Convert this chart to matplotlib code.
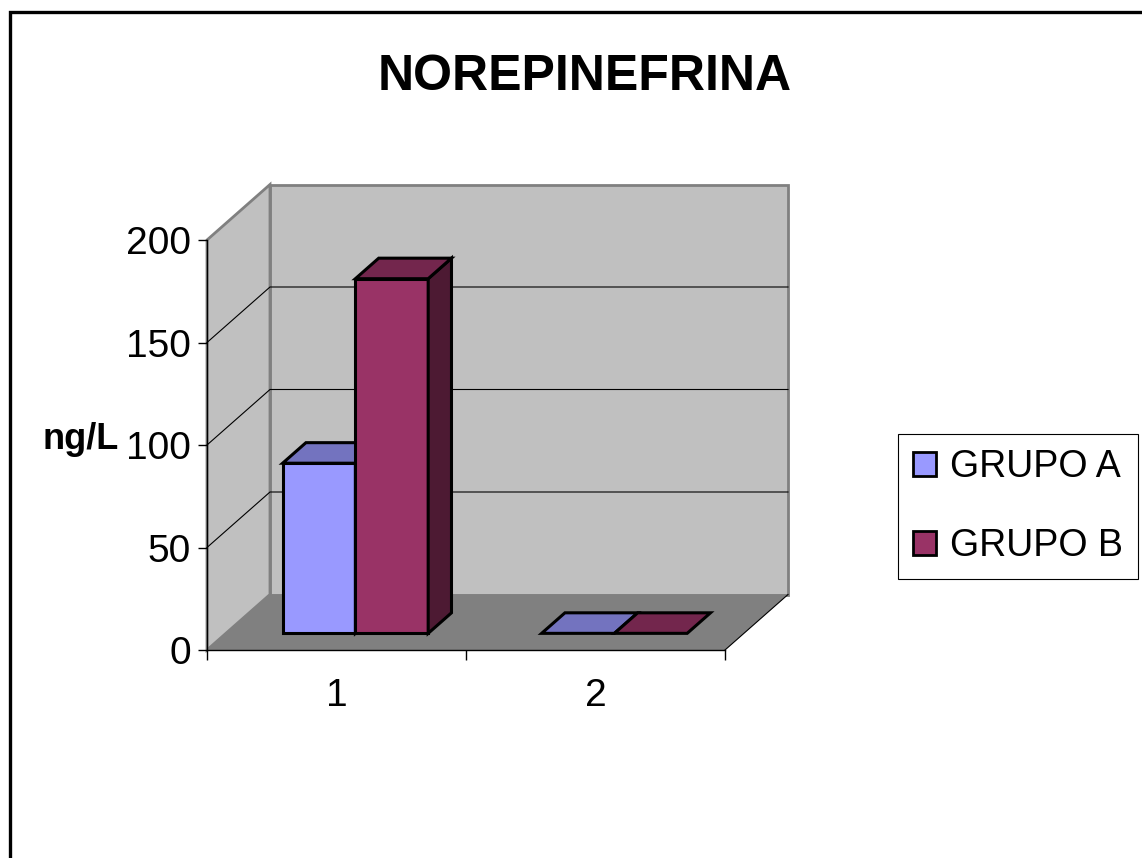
import matplotlib
matplotlib.use("Agg")
import matplotlib.pyplot as plt
from matplotlib.patches import Polygon, Patch
from matplotlib.lines import Line2D

plt.rcParams['font.family'] = ['Liberation Sans', 'DejaVu Sans']

# ---- data ----
categories = ['1', '2']
series_names = ['GRUPO A', 'GRUPO B']
grupo_a = [83, 0]
grupo_b = [173, 0]
yticks = [0, 50, 100, 150, 200]

# ---- styling ----
front_colors = ['#9999FF', '#993366']
top_colors = ['#7373BF', '#73264D']
side_colors = ['#4D4D80', '#4D1A33']
wall_color = '#C0C0C0'
floor_color = '#808080'
wall_edge = '#808080'

W, H = 1142, 858
fig = plt.figure(figsize=(W / 100, H / 100), dpi=100)


def fx(px):
    return px / W


def fy(py):
    return 1 - py / H


# front plane of the 3-D box
ax = fig.add_axes([fx(207), fy(650), (725 - 207) / W, (650 - 240) / H])
ax.set_xlim(0, 2)
ax.set_ylim(0, 200)
ax.patch.set_visible(False)

# oblique depth offset (data units per unit of depth)
DX = 63 / 259.0
DY = 55.5 / 2.05


def proj(x, v, d):
    return (x + d * DX, v + d * DY)


def poly(pts, fc, ec='none', lw=0, z=1):
    p = Polygon([proj(*p) for p in pts], closed=True, facecolor=fc,
                edgecolor=ec, linewidth=lw, joinstyle='miter',
                clip_on=False, zorder=z)
    ax.add_patch(p)


def line(pts, color='black', lw=1, z=1.5):
    xy = [proj(*p) for p in pts]
    ax.add_line(Line2D([p[0] for p in xy], [p[1] for p in xy], color=color,
                       linewidth=lw, clip_on=False, zorder=z,
                       solid_joinstyle='miter'))


ymax = yticks[-1]
# walls and floor
poly([(0, 0, 1), (2, 0, 1), (2, ymax, 1), (0, ymax, 1)], wall_color, wall_edge, 2, 0.5)
poly([(0, 0, 0), (0, 0, 1), (0, ymax, 1), (0, ymax, 0)], wall_color, wall_edge, 2, 0.6)
poly([(0, 0, 0), (2, 0, 0), (2, 0, 1), (0, 0, 1)], floor_color, z=0.7)
line([(2, 0, 0), (2, 0, 1)], 'black', 0.8, 0.8)

# gridlines on the side and back walls
for v in yticks[1:-1]:
    line([(0, v, 0), (0, v, 1), (2, v, 1)], 'black', 0.8, 0.9)

# bars
bar_w = 0.281
d0, d1 = 0.30, 0.67
values = [grupo_a, grupo_b]
z = 3
for i in range(len(categories)):
    c = i + 0.5
    for s, vals in enumerate(values):
        x0 = c - bar_w + s * bar_w
        x1 = x0 + bar_w
        h = vals[i]
        if h > 0:
            poly([(x0, 0, d0), (x1, 0, d0), (x1, h, d0), (x0, h, d0)],
                 front_colors[s], 'black', 2.2, z)
            poly([(x1, 0, d0), (x1, 0, d1), (x1, h, d1), (x1, h, d0)],
                 side_colors[s], 'black', 2.2, z)
        poly([(x0, h, d0), (x1, h, d0), (x1, h, d1), (x0, h, d1)],
             top_colors[s], 'black', 2.2, z)
        z += 0.1

# axes
for sp in ['top', 'right']:
    ax.spines[sp].set_visible(False)
for sp in ['left', 'bottom']:
    ax.spines[sp].set_linewidth(1)
    ax.spines[sp].set_zorder(2)
ax.set_yticks(yticks)
ax.set_yticklabels([str(t) for t in yticks])
ax.tick_params(axis='y', direction='out', length=6.5, width=1,
               labelsize=28, pad=5)
ax.set_xticks([0, 1, 2])
ax.set_xticklabels([])
ax.set_xticks([0.5, 1.5], minor=True)
ax.set_xticklabels(categories, minor=True)
ax.tick_params(axis='x', which='major', direction='out', length=7.5, width=1)
ax.tick_params(axis='x', which='minor', length=0, labelsize=28, pad=20)

# titles
fig.text(fx(585), fy(77), 'NOREPINEFRINA', fontsize=36, fontweight='bold',
         ha='center', va='center')
fig.text(fx(81), fy(440), 'ng/L', fontsize=26, fontweight='bold',
         ha='center', va='center')

# legend
handles = [Patch(facecolor=front_colors[k], edgecolor='black', linewidth=2)
           for k in range(len(series_names))]
leg = fig.legend(handles=handles, labels=series_names, loc='upper left',
                 bbox_to_anchor=(fx(898), fy(434)), borderaxespad=0,
                 fontsize=27, frameon=True, fancybox=False, framealpha=1,
                 edgecolor='black', handlelength=0.62, handleheight=0.62,
                 handletextpad=0.36, borderpad=0.4, labelspacing=1.15)
leg.get_frame().set_linewidth(0.8)

# outer chart border (top and left)
fig.add_artist(Line2D([fx(10), fx(10), 1], [0, fy(12), fy(12)],
                      transform=fig.transFigure, color='black', linewidth=2.4,
                      solid_joinstyle='miter'))

fig.savefig('out.png', dpi=100)
